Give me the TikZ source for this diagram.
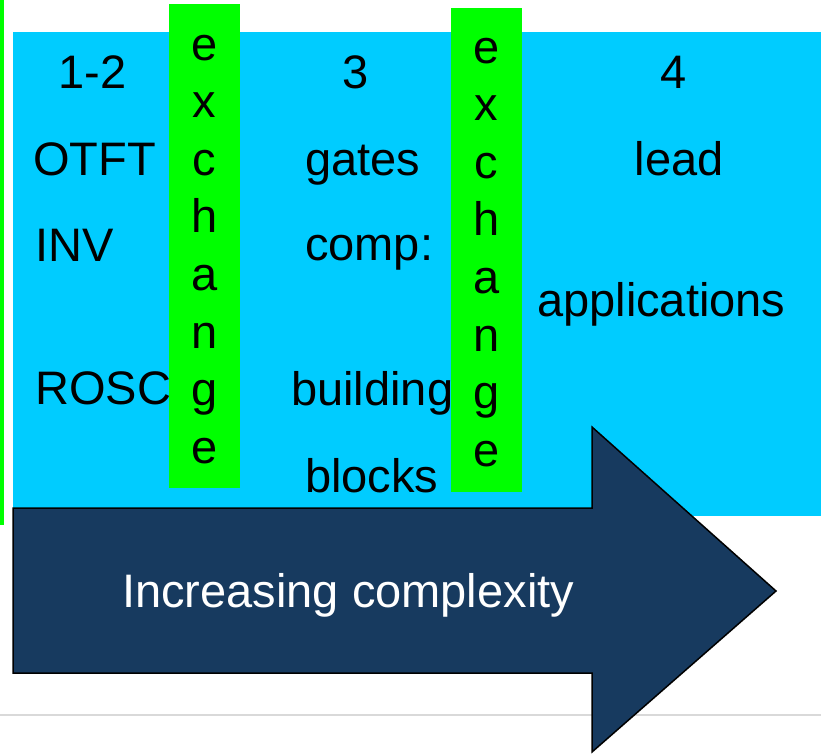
\documentclass[tikz,border=0pt]{standalone}
\usepackage{fontspec}
\setmainfont{Liberation Sans}
\definecolor{skyblue}{HTML}{00CCFF}
\definecolor{limegreen}{HTML}{00FF00}
\definecolor{navyblue}{HTML}{173A5F}
\definecolor{rulegray}{HTML}{D9D9D9}
\tikzset{
	label/.style = {inner sep = 0pt, font = \fontsize{47}{57.6}\selectfont},
	letter/.style = {label, anchor = base},
}
\begin{document}
\begin{tikzpicture}[x = 1pt, y = -1pt]
		\useasboundingbox (0, 0) rectangle (821, 753);
		\fill[skyblue] (13, 32) rectangle (821, 516);
		\fill[limegreen] (0, 0) rectangle (4, 525);
		\draw[rulegray, line width = 2pt] (0, 715) -- (821, 715);
		% exchange bars
		\foreach \bx/\by/\bt/\bb/\bn in {204.5/60/4/488/a, 486.5/63/8/492/b}{
			\fill[limegreen] (\bx - 35.5, \bt) rectangle (\bx + 35.5, \bb);
			\foreach \l [count = \i] in {e, x, c, h, a, n, g, e}{
				\node[letter] (ex\bn\i) at (\bx, {\by + 57.6 * (\i - 1)}) {\l};}}
		% columns
		\node[letter] (lvla) at (92.5, 88) {1-2};
		\node[letter] (lvlb) at (356, 88) {3};
		\node[letter] (lvlc) at (674, 88) {4};
		\node[label, anchor = base west] (otft) at (33, 175) {OTFT};
		\node[label, anchor = base west] (inv) at (35, 261) {INV};
		\node[label, anchor = base west] (rosc) at (35, 404) {ROSC};
		\node[label, anchor = base west] (gates) at (305, 175) {gates};
		\node[label, anchor = base west] (comp) at (305, 260) {comp:};
		\node[label, anchor = base west] (build) at (291, 405) {building};
		\node[label, anchor = base west] (blocks) at (305, 492) {blocks};
		\node[label, anchor = base] (lead) at (679, 175) {lead};
		\node[label, anchor = base west] (apps) at (537, 316) {applications};
		% arrow
		\draw[fill = navyblue, line width = 1.5pt, line join = miter]
			(13, 508) -- (592, 508) -- (592, 427) -- (776, 591) -- (592, 752) -- (592, 673) -- (13, 673) -- cycle;
		\node[label, anchor = base west, text = white] (complex) at (122, 607) {Increasing complexity};
		\end{tikzpicture}
\end{document}
